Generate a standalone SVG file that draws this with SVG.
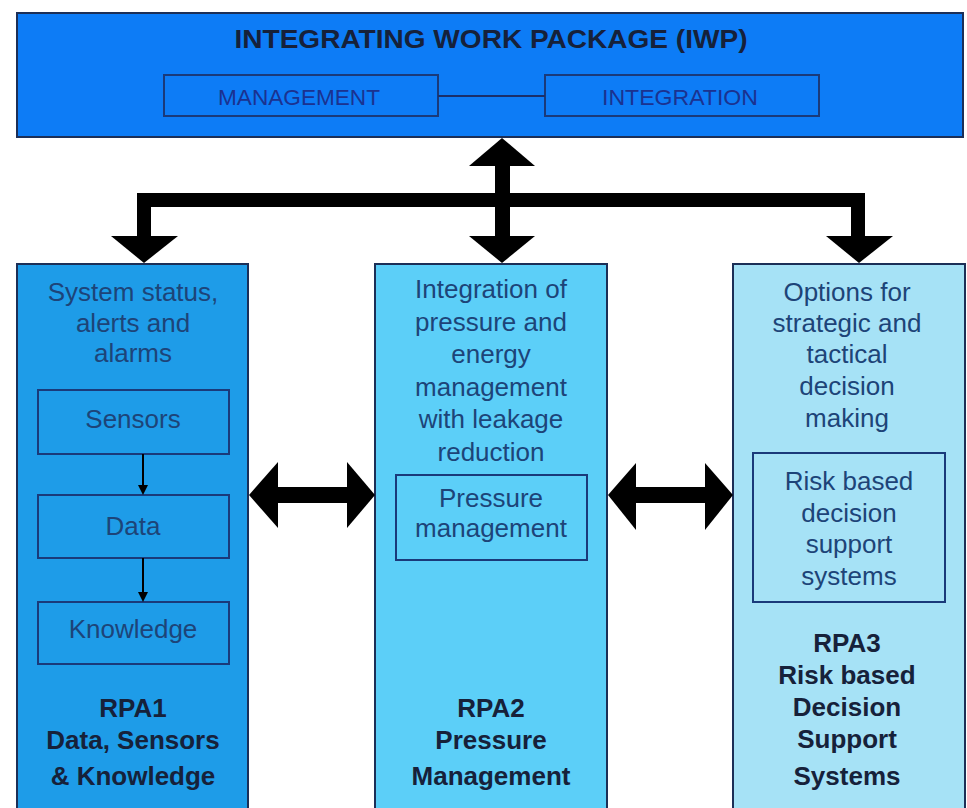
<svg xmlns="http://www.w3.org/2000/svg" width="967" height="808" viewBox="0 0 967 808">
<style>
.box{stroke:#1c2f57;stroke-width:2}
.inner{fill:none;stroke:#1a3a7a;stroke-width:2}
.t{font-family:"Liberation Sans",Arial,sans-serif;font-size:26px;text-anchor:middle;fill:#1d4478}
.b{font-family:"Liberation Sans",Arial,sans-serif;font-size:26px;font-weight:bold;text-anchor:middle;fill:#16213a}
.iwp{font-family:"Liberation Sans",Arial,sans-serif;font-size:22px;text-anchor:middle;fill:#1b3290}
.arr{fill:#000}
</style>
<rect width="967" height="808" fill="#ffffff"/>
<g id="iwp">
<rect class="box" x="17" y="13" width="946" height="124" fill="#0d7cf6"/>
<text class="b" x="491" y="48" font-size="27" textLength="513" lengthAdjust="spacingAndGlyphs" fill="#14204a">INTEGRATING WORK PACKAGE (IWP)</text>
</g>
<g id="management">
<rect class="inner" x="164" y="75" width="274" height="41" fill="#0d7cf6"/>
<text class="iwp" x="299" y="105" textLength="162" lengthAdjust="spacingAndGlyphs">MANAGEMENT</text>
</g>
<g id="integration">
<rect class="inner" x="545" y="75" width="274" height="41" fill="#0d7cf6"/>
<text class="iwp" x="680" y="105" textLength="156" lengthAdjust="spacingAndGlyphs">INTEGRATION</text>
</g>
<g id="rpa1">
<rect class="box" x="17" y="264" width="231" height="550" fill="#1e9ce8"/>
<text class="t" x="133" y="301">System status,</text>
<text class="t" x="133" y="332">alerts and</text>
<text class="t" x="133" y="362">alarms</text>
<text class="b" x="133" y="717">RPA1</text>
<text class="b" x="133" y="749">Data, Sensors</text>
<text class="b" x="133" y="785">&amp; Knowledge</text>
</g>
<g id="sensors">
<rect class="inner" x="38" y="390" width="191" height="64"/>
<text class="t" x="133" y="428">Sensors</text>
</g>
<g id="data">
<rect class="inner" x="38" y="495" width="191" height="63"/>
<text class="t" x="133" y="535">Data</text>
</g>
<g id="knowledge">
<rect class="inner" x="38" y="602" width="191" height="62"/>
<text class="t" x="133" y="638">Knowledge</text>
</g>
<g id="rpa2">
<rect class="box" x="375" y="264" width="232" height="550" fill="#5ccff8"/>
<text class="t" x="491" y="298">Integration of</text>
<text class="t" x="491" y="331">pressure and</text>
<text class="t" x="491" y="363">energy</text>
<text class="t" x="491" y="396">management</text>
<text class="t" x="491" y="428">with leakage</text>
<text class="t" x="491" y="461">reduction</text>
<text class="b" x="491" y="717">RPA2</text>
<text class="b" x="491" y="749">Pressure</text>
<text class="b" x="491" y="785">Management</text>
</g>
<g id="pressure-management">
<rect class="inner" x="396" y="475" width="191" height="85"/>
<text class="t" x="491" y="507">Pressure</text>
<text class="t" x="491" y="537">management</text>
</g>
<g id="rpa3">
<rect class="box" x="733" y="264" width="232" height="550" fill="#a6e2f6"/>
<text class="t" x="847" y="301">Options for</text>
<text class="t" x="847" y="332">strategic and</text>
<text class="t" x="847" y="363">tactical</text>
<text class="t" x="847" y="395">decision</text>
<text class="t" x="847" y="427">making</text>
<text class="b" x="847" y="652">RPA3</text>
<text class="b" x="847" y="684">Risk based</text>
<text class="b" x="847" y="716">Decision</text>
<text class="b" x="847" y="748">Support</text>
<text class="b" x="847" y="785">Systems</text>
</g>
<g id="risk-dss">
<rect class="inner" x="753" y="453" width="192" height="149"/>
<text class="t" x="849" y="490">Risk based</text>
<text class="t" x="849" y="522">decision</text>
<text class="t" x="849" y="553">support</text>
<text class="t" x="849" y="585">systems</text>
</g>
<g id="connectors">
<line x1="438" y1="96" x2="545" y2="96" stroke="#1a2f6a" stroke-width="2"/>
<polygon class="arr" points="502,138 469,166 535,166"/>
<rect class="arr" x="495" y="165" width="15" height="72"/>
<rect class="arr" x="137" y="193" width="728" height="14"/>
<rect class="arr" x="137" y="200" width="14" height="37"/>
<polygon class="arr" points="111,236 178,236 144,263"/>
<polygon class="arr" points="469,236 535,236 502,263"/>
<rect class="arr" x="851" y="200" width="14" height="37"/>
<polygon class="arr" points="826,236 893,236 859,263"/>
<polygon class="arr" points="249,495 278,462 278,528"/>
<rect class="arr" x="277" y="487" width="71" height="16"/>
<polygon class="arr" points="375,495 347,462 347,528"/>
<polygon class="arr" points="608,495 636,463 636,530"/>
<rect class="arr" x="635" y="487" width="71" height="16"/>
<polygon class="arr" points="733,495 705,463 705,530"/>
<line x1="143" y1="454" x2="143" y2="487" stroke="#000" stroke-width="2"/>
<polygon class="arr" points="138,485 148,485 143,495"/>
<line x1="143" y1="558" x2="143" y2="594" stroke="#000" stroke-width="2"/>
<polygon class="arr" points="138,592 148,592 143,602"/>
</g>
</svg>
